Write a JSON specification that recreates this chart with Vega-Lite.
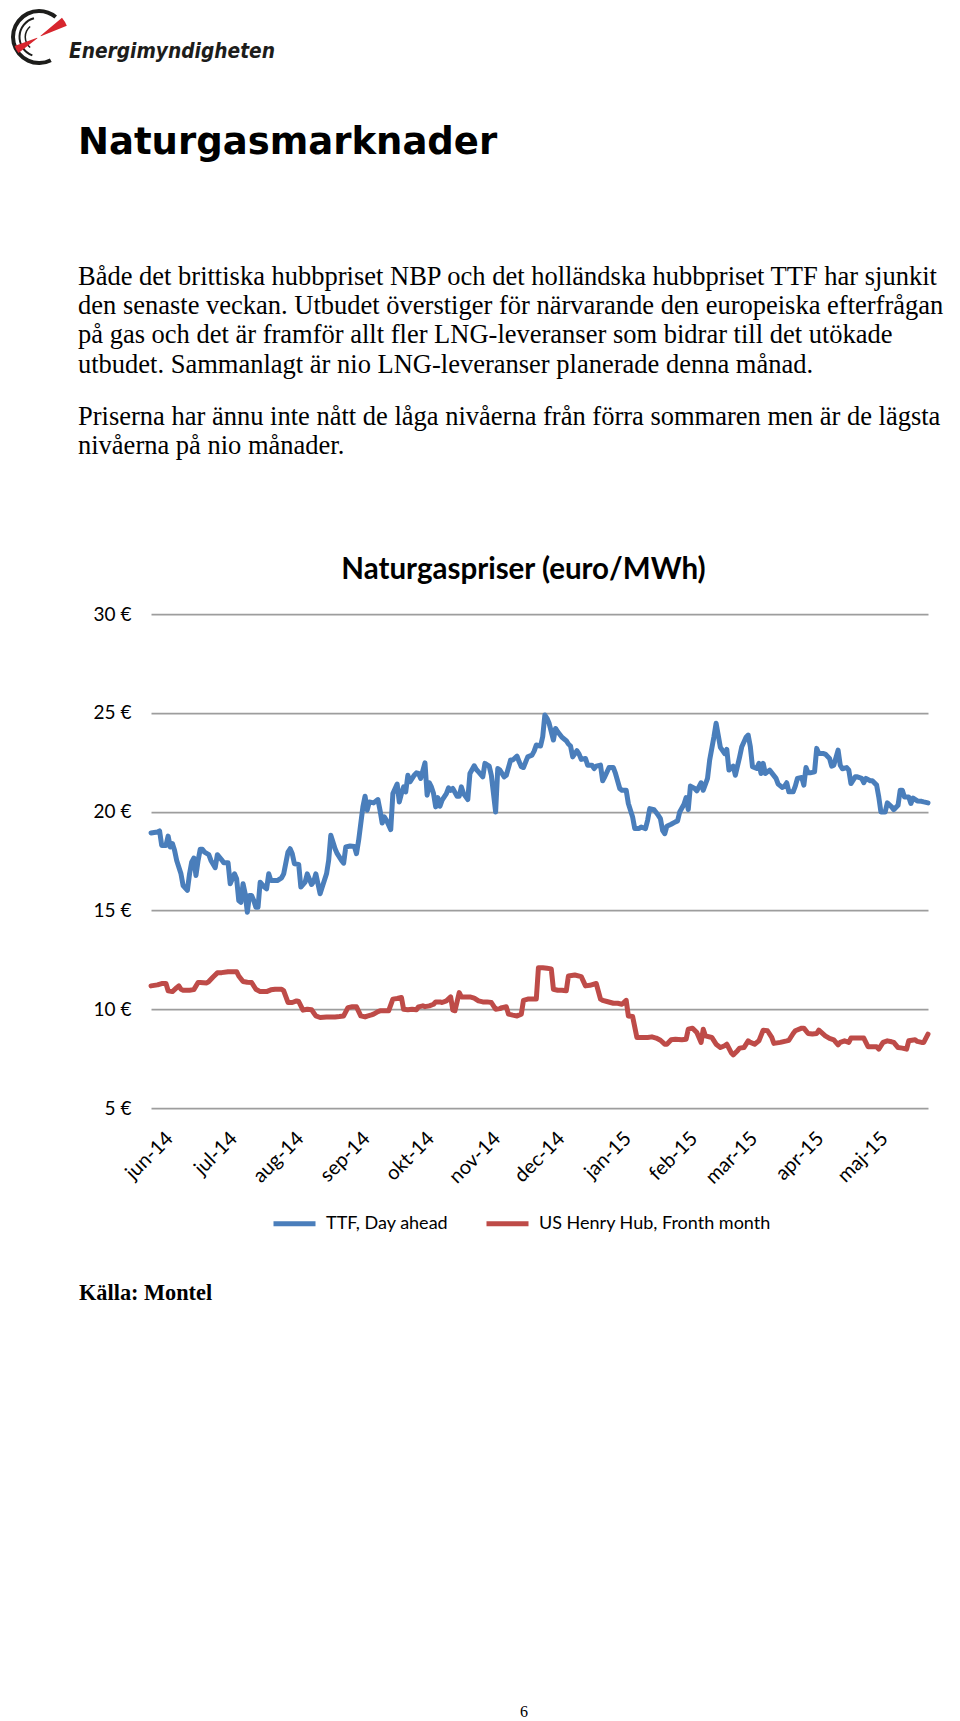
{
  "$schema": "https://vega.github.io/schema/vega-lite/v6.json",
  "background": "white",
  "padding": {"left": 9, "top": 7, "right": 0, "bottom": 0},
  "spacing": 0,
  "bounds": "flush",
  "resolve": {"scale": {"color": "independent", "fill": "independent", "theta": "independent"}, "legend": {"color": "independent", "fill": "independent"}},
  "config": {"view": {"stroke": null}},
  "datasets": {
    "logo": [
      {"ring": "a", "i": 1, "part": "k", "deg": 40},
      {"ring": "a", "i": 2, "part": "x", "deg": 113},
      {"ring": "a", "i": 3, "part": "k", "deg": 207},
      {"ring": "b", "i": 1, "part": "x", "deg": 200},
      {"ring": "b", "i": 2, "part": "k", "deg": 145},
      {"ring": "b", "i": 3, "part": "x", "deg": 15},
      {"ring": "c", "i": 1, "part": "x", "deg": 220},
      {"ring": "c", "i": 2, "part": "k", "deg": 100},
      {"ring": "c", "i": 3, "part": "x", "deg": 40},
      {"ring": "d", "i": 1, "part": "x", "deg": 50},
      {"ring": "d", "i": 2, "part": "r", "deg": 18},
      {"ring": "d", "i": 3, "part": "x", "deg": 292},
      {"ring": "e", "i": 1, "part": "x", "deg": 232},
      {"ring": "e", "i": 2, "part": "r", "deg": 18},
      {"ring": "e", "i": 3, "part": "x", "deg": 110}
    ],
    "ttf": [
      {"date": "2014-05-21", "price": 18.92}, {"date": "2014-05-24", "price": 18.97}, {"date": "2014-05-25", "price": 19.02}, {"date": "2014-05-26", "price": 18.29}, {"date": "2014-05-28", "price": 18.29}, {"date": "2014-05-29", "price": 18.76}, {"date": "2014-05-30", "price": 18.21}, {"date": "2014-05-31", "price": 18.38},
      {"date": "2014-06-01", "price": 18.04}, {"date": "2014-06-02", "price": 17.53}, {"date": "2014-06-04", "price": 16.85}, {"date": "2014-06-05", "price": 16.26}, {"date": "2014-06-07", "price": 16.01}, {"date": "2014-06-08", "price": 16.85}, {"date": "2014-06-09", "price": 17.44}, {"date": "2014-06-10", "price": 17.65}, {"date": "2014-06-11", "price": 16.77}, {"date": "2014-06-12", "price": 17.53}, {"date": "2014-06-13", "price": 18.09}, {"date": "2014-06-14", "price": 18.09}, {"date": "2014-06-15", "price": 17.95}, {"date": "2014-06-17", "price": 17.82}, {"date": "2014-06-18", "price": 17.53}, {"date": "2014-06-20", "price": 17.16}, {"date": "2014-06-21", "price": 17.82}, {"date": "2014-06-23", "price": 17.56}, {"date": "2014-06-24", "price": 17.41}, {"date": "2014-06-26", "price": 17.41}, {"date": "2014-06-27", "price": 16.35}, {"date": "2014-06-29", "price": 16.85}, {"date": "2014-06-30", "price": 16.60},
      {"date": "2014-07-01", "price": 15.50}, {"date": "2014-07-02", "price": 15.41}, {"date": "2014-07-03", "price": 16.35}, {"date": "2014-07-04", "price": 15.84}, {"date": "2014-07-05", "price": 14.91}, {"date": "2014-07-06", "price": 15.75}, {"date": "2014-07-07", "price": 15.75}, {"date": "2014-07-08", "price": 15.50}, {"date": "2014-07-09", "price": 15.16}, {"date": "2014-07-10", "price": 15.16}, {"date": "2014-07-11", "price": 16.43}, {"date": "2014-07-13", "price": 16.18}, {"date": "2014-07-14", "price": 16.09}, {"date": "2014-07-15", "price": 16.85}, {"date": "2014-07-16", "price": 16.51}, {"date": "2014-07-19", "price": 16.51}, {"date": "2014-07-21", "price": 16.65}, {"date": "2014-07-22", "price": 16.85}, {"date": "2014-07-24", "price": 17.95}, {"date": "2014-07-25", "price": 18.12}, {"date": "2014-07-26", "price": 17.87}, {"date": "2014-07-27", "price": 17.36}, {"date": "2014-07-29", "price": 17.33}, {"date": "2014-07-30", "price": 16.18},
      {"date": "2014-08-01", "price": 16.43}, {"date": "2014-08-02", "price": 16.85}, {"date": "2014-08-04", "price": 16.31}, {"date": "2014-08-05", "price": 16.46}, {"date": "2014-08-06", "price": 16.85}, {"date": "2014-08-08", "price": 15.84}, {"date": "2014-08-09", "price": 16.18}, {"date": "2014-08-11", "price": 16.85}, {"date": "2014-08-12", "price": 17.53}, {"date": "2014-08-13", "price": 18.80}, {"date": "2014-08-15", "price": 18.12}, {"date": "2014-08-16", "price": 17.87}, {"date": "2014-08-18", "price": 17.53}, {"date": "2014-08-19", "price": 17.39}, {"date": "2014-08-20", "price": 18.21}, {"date": "2014-08-22", "price": 18.26}, {"date": "2014-08-24", "price": 18.24}, {"date": "2014-08-25", "price": 17.87}, {"date": "2014-08-26", "price": 18.54}, {"date": "2014-08-27", "price": 19.39}, {"date": "2014-08-28", "price": 20.24}, {"date": "2014-08-29", "price": 20.78}, {"date": "2014-08-30", "price": 20.07}, {"date": "2014-08-31", "price": 20.49},
      {"date": "2014-09-02", "price": 20.44}, {"date": "2014-09-04", "price": 20.61}, {"date": "2014-09-05", "price": 20.07}, {"date": "2014-09-06", "price": 19.42}, {"date": "2014-09-07", "price": 19.73}, {"date": "2014-09-08", "price": 19.56}, {"date": "2014-09-10", "price": 19.09}, {"date": "2014-09-11", "price": 20.91}, {"date": "2014-09-13", "price": 21.39}, {"date": "2014-09-14", "price": 20.49}, {"date": "2014-09-15", "price": 20.91}, {"date": "2014-09-16", "price": 21.25}, {"date": "2014-09-17", "price": 21.00}, {"date": "2014-09-18", "price": 21.84}, {"date": "2014-09-19", "price": 21.51}, {"date": "2014-09-21", "price": 21.84}, {"date": "2014-09-22", "price": 21.96}, {"date": "2014-09-23", "price": 21.93}, {"date": "2014-09-24", "price": 21.68}, {"date": "2014-09-26", "price": 22.47}, {"date": "2014-09-27", "price": 20.83}, {"date": "2014-09-28", "price": 21.46}, {"date": "2014-09-29", "price": 21.25}, {"date": "2014-09-30", "price": 20.91},
      {"date": "2014-10-01", "price": 20.24}, {"date": "2014-10-02", "price": 20.71}, {"date": "2014-10-03", "price": 20.27}, {"date": "2014-10-04", "price": 20.58}, {"date": "2014-10-06", "price": 20.91}, {"date": "2014-10-07", "price": 21.20}, {"date": "2014-10-08", "price": 21.08}, {"date": "2014-10-09", "price": 21.17}, {"date": "2014-10-11", "price": 20.78}, {"date": "2014-10-12", "price": 20.78}, {"date": "2014-10-13", "price": 21.25}, {"date": "2014-10-14", "price": 20.91}, {"date": "2014-10-16", "price": 20.61}, {"date": "2014-10-17", "price": 21.93}, {"date": "2014-10-19", "price": 22.32}, {"date": "2014-10-20", "price": 22.13}, {"date": "2014-10-21", "price": 22.01}, {"date": "2014-10-23", "price": 21.76}, {"date": "2014-10-24", "price": 22.44}, {"date": "2014-10-26", "price": 22.30}, {"date": "2014-10-27", "price": 21.84}, {"date": "2014-10-29", "price": 19.98}, {"date": "2014-10-30", "price": 22.18}, {"date": "2014-10-31", "price": 22.10},
      {"date": "2014-11-02", "price": 21.76}, {"date": "2014-11-03", "price": 21.84}, {"date": "2014-11-05", "price": 22.61}, {"date": "2014-11-06", "price": 22.61}, {"date": "2014-11-08", "price": 22.81}, {"date": "2014-11-09", "price": 22.52}, {"date": "2014-11-10", "price": 22.27}, {"date": "2014-11-11", "price": 22.23}, {"date": "2014-11-13", "price": 22.77}, {"date": "2014-11-15", "price": 22.86}, {"date": "2014-11-16", "price": 23.06}, {"date": "2014-11-17", "price": 23.37}, {"date": "2014-11-19", "price": 23.32}, {"date": "2014-11-20", "price": 23.79}, {"date": "2014-11-21", "price": 24.89}, {"date": "2014-11-22", "price": 24.72}, {"date": "2014-11-23", "price": 24.47}, {"date": "2014-11-25", "price": 23.62}, {"date": "2014-11-26", "price": 24.21}, {"date": "2014-11-27", "price": 24.04}, {"date": "2014-11-29", "price": 23.76},
      {"date": "2014-12-01", "price": 23.59}, {"date": "2014-12-02", "price": 23.42}, {"date": "2014-12-03", "price": 23.32}, {"date": "2014-12-04", "price": 22.77}, {"date": "2014-12-06", "price": 23.08}, {"date": "2014-12-07", "price": 22.91}, {"date": "2014-12-08", "price": 22.64}, {"date": "2014-12-10", "price": 22.69}, {"date": "2014-12-11", "price": 22.35}, {"date": "2014-12-13", "price": 22.35}, {"date": "2014-12-14", "price": 22.18}, {"date": "2014-12-15", "price": 22.30}, {"date": "2014-12-17", "price": 22.35}, {"date": "2014-12-18", "price": 21.56}, {"date": "2014-12-19", "price": 21.76}, {"date": "2014-12-21", "price": 22.23}, {"date": "2014-12-23", "price": 22.23}, {"date": "2014-12-24", "price": 21.93}, {"date": "2014-12-26", "price": 21.17}, {"date": "2014-12-27", "price": 21.08}, {"date": "2014-12-29", "price": 21.08}, {"date": "2014-12-30", "price": 20.41},
      {"date": "2015-01-01", "price": 19.73}, {"date": "2015-01-02", "price": 19.14}, {"date": "2015-01-04", "price": 19.14}, {"date": "2015-01-05", "price": 19.22}, {"date": "2015-01-07", "price": 19.14}, {"date": "2015-01-08", "price": 19.56}, {"date": "2015-01-09", "price": 20.15}, {"date": "2015-01-11", "price": 20.10}, {"date": "2015-01-13", "price": 19.81}, {"date": "2015-01-14", "price": 19.64}, {"date": "2015-01-15", "price": 19.05}, {"date": "2015-01-16", "price": 18.88}, {"date": "2015-01-17", "price": 19.26}, {"date": "2015-01-19", "price": 19.36}, {"date": "2015-01-21", "price": 19.48}, {"date": "2015-01-22", "price": 19.53}, {"date": "2015-01-23", "price": 19.98}, {"date": "2015-01-25", "price": 20.37}, {"date": "2015-01-26", "price": 20.71}, {"date": "2015-01-27", "price": 20.10}, {"date": "2015-01-28", "price": 21.29}, {"date": "2015-01-30", "price": 21.17}, {"date": "2015-01-31", "price": 21.05},
      {"date": "2015-02-02", "price": 21.46}, {"date": "2015-02-03", "price": 21.08}, {"date": "2015-02-05", "price": 21.68}, {"date": "2015-02-06", "price": 22.61}, {"date": "2015-02-08", "price": 23.79}, {"date": "2015-02-09", "price": 24.47}, {"date": "2015-02-10", "price": 23.87}, {"date": "2015-02-11", "price": 23.25}, {"date": "2015-02-13", "price": 22.94}, {"date": "2015-02-14", "price": 23.15}, {"date": "2015-02-15", "price": 22.10}, {"date": "2015-02-17", "price": 22.30}, {"date": "2015-02-18", "price": 21.84}, {"date": "2015-02-20", "price": 22.77}, {"date": "2015-02-21", "price": 23.28}, {"date": "2015-02-23", "price": 23.76}, {"date": "2015-02-24", "price": 23.87}, {"date": "2015-02-25", "price": 23.28}, {"date": "2015-02-26", "price": 22.27}, {"date": "2015-02-28", "price": 22.18},
      {"date": "2015-03-01", "price": 22.44}, {"date": "2015-03-02", "price": 21.93}, {"date": "2015-03-03", "price": 22.44}, {"date": "2015-03-04", "price": 21.93}, {"date": "2015-03-06", "price": 22.10}, {"date": "2015-03-07", "price": 21.96}, {"date": "2015-03-09", "price": 21.68}, {"date": "2015-03-10", "price": 21.39}, {"date": "2015-03-12", "price": 21.22}, {"date": "2015-03-13", "price": 21.29}, {"date": "2015-03-14", "price": 21.46}, {"date": "2015-03-15", "price": 21.00}, {"date": "2015-03-17", "price": 21.00}, {"date": "2015-03-18", "price": 21.29}, {"date": "2015-03-19", "price": 21.68}, {"date": "2015-03-21", "price": 21.73}, {"date": "2015-03-22", "price": 21.34}, {"date": "2015-03-23", "price": 22.23}, {"date": "2015-03-24", "price": 21.96}, {"date": "2015-03-25", "price": 21.96}, {"date": "2015-03-27", "price": 22.01}, {"date": "2015-03-28", "price": 23.20}, {"date": "2015-03-29", "price": 22.94}, {"date": "2015-03-31", "price": 22.94},
      {"date": "2015-04-01", "price": 22.91}, {"date": "2015-04-03", "price": 22.69}, {"date": "2015-04-04", "price": 22.30}, {"date": "2015-04-05", "price": 22.35}, {"date": "2015-04-07", "price": 23.11}, {"date": "2015-04-08", "price": 22.35}, {"date": "2015-04-09", "price": 22.17}, {"date": "2015-04-11", "price": 22.23}, {"date": "2015-04-12", "price": 22.10}, {"date": "2015-04-13", "price": 21.42}, {"date": "2015-04-15", "price": 21.76}, {"date": "2015-04-16", "price": 21.76}, {"date": "2015-04-18", "price": 21.68}, {"date": "2015-04-19", "price": 21.46}, {"date": "2015-04-20", "price": 21.68}, {"date": "2015-04-22", "price": 21.56}, {"date": "2015-04-23", "price": 21.56}, {"date": "2015-04-25", "price": 21.34}, {"date": "2015-04-26", "price": 20.74}, {"date": "2015-04-27", "price": 19.98}, {"date": "2015-04-29", "price": 19.98}, {"date": "2015-04-30", "price": 20.44},
      {"date": "2015-05-02", "price": 20.24}, {"date": "2015-05-03", "price": 20.10}, {"date": "2015-05-05", "price": 20.32}, {"date": "2015-05-06", "price": 21.08}, {"date": "2015-05-07", "price": 21.08}, {"date": "2015-05-08", "price": 20.74}, {"date": "2015-05-10", "price": 20.74}, {"date": "2015-05-11", "price": 20.41}, {"date": "2015-05-12", "price": 20.69}, {"date": "2015-05-14", "price": 20.54}, {"date": "2015-05-16", "price": 20.52}, {"date": "2015-05-17", "price": 20.49}, {"date": "2015-05-19", "price": 20.44}
    ],
    "hh": [
      {"date": "2014-05-21", "price": 11.18}, {"date": "2014-05-24", "price": 11.23}, {"date": "2014-05-26", "price": 11.30}, {"date": "2014-05-28", "price": 11.30}, {"date": "2014-05-29", "price": 10.93}, {"date": "2014-05-31", "price": 10.89},
      {"date": "2014-06-02", "price": 11.09}, {"date": "2014-06-03", "price": 11.18}, {"date": "2014-06-04", "price": 11.01}, {"date": "2014-06-05", "price": 10.96}, {"date": "2014-06-08", "price": 10.96}, {"date": "2014-06-10", "price": 10.99}, {"date": "2014-06-12", "price": 11.35}, {"date": "2014-06-13", "price": 11.35}, {"date": "2014-06-16", "price": 11.33}, {"date": "2014-06-17", "price": 11.40}, {"date": "2014-06-19", "price": 11.63}, {"date": "2014-06-21", "price": 11.84}, {"date": "2014-06-23", "price": 11.85}, {"date": "2014-06-26", "price": 11.90}, {"date": "2014-06-28", "price": 11.90}, {"date": "2014-06-30", "price": 11.90},
      {"date": "2014-07-01", "price": 11.68}, {"date": "2014-07-03", "price": 11.40}, {"date": "2014-07-05", "price": 11.36}, {"date": "2014-07-07", "price": 11.35}, {"date": "2014-07-09", "price": 11.01}, {"date": "2014-07-11", "price": 10.89}, {"date": "2014-07-14", "price": 10.89}, {"date": "2014-07-16", "price": 10.98}, {"date": "2014-07-18", "price": 11.01}, {"date": "2014-07-21", "price": 11.01}, {"date": "2014-07-22", "price": 10.93}, {"date": "2014-07-24", "price": 10.34}, {"date": "2014-07-26", "price": 10.34}, {"date": "2014-07-28", "price": 10.42}, {"date": "2014-07-29", "price": 10.39}, {"date": "2014-07-31", "price": 9.95},
      {"date": "2014-08-02", "price": 10.00}, {"date": "2014-08-04", "price": 9.97}, {"date": "2014-08-06", "price": 9.66}, {"date": "2014-08-08", "price": 9.58}, {"date": "2014-08-11", "price": 9.60}, {"date": "2014-08-15", "price": 9.61}, {"date": "2014-08-17", "price": 9.63}, {"date": "2014-08-19", "price": 9.66}, {"date": "2014-08-21", "price": 10.08}, {"date": "2014-08-23", "price": 10.12}, {"date": "2014-08-25", "price": 10.12}, {"date": "2014-08-27", "price": 9.66}, {"date": "2014-08-29", "price": 9.61}, {"date": "2014-08-30", "price": 9.65},
      {"date": "2014-09-01", "price": 9.71}, {"date": "2014-09-02", "price": 9.75}, {"date": "2014-09-04", "price": 9.88}, {"date": "2014-09-05", "price": 9.92}, {"date": "2014-09-08", "price": 9.92}, {"date": "2014-09-09", "price": 9.92}, {"date": "2014-09-11", "price": 10.51}, {"date": "2014-09-13", "price": 10.54}, {"date": "2014-09-15", "price": 10.59}, {"date": "2014-09-16", "price": 10.00}, {"date": "2014-09-18", "price": 9.97}, {"date": "2014-09-20", "price": 10.00}, {"date": "2014-09-22", "price": 9.97}, {"date": "2014-09-23", "price": 10.12}, {"date": "2014-09-25", "price": 10.17}, {"date": "2014-09-26", "price": 10.13}, {"date": "2014-09-28", "price": 10.17}, {"date": "2014-09-30", "price": 10.25},
      {"date": "2014-10-01", "price": 10.37}, {"date": "2014-10-03", "price": 10.37}, {"date": "2014-10-04", "price": 10.34}, {"date": "2014-10-06", "price": 10.42}, {"date": "2014-10-08", "price": 10.62}, {"date": "2014-10-09", "price": 9.95}, {"date": "2014-10-10", "price": 9.92}, {"date": "2014-10-12", "price": 10.84}, {"date": "2014-10-13", "price": 10.62}, {"date": "2014-10-15", "price": 10.62}, {"date": "2014-10-17", "price": 10.62}, {"date": "2014-10-19", "price": 10.56}, {"date": "2014-10-21", "price": 10.42}, {"date": "2014-10-23", "price": 10.37}, {"date": "2014-10-25", "price": 10.37}, {"date": "2014-10-27", "price": 10.34}, {"date": "2014-10-29", "price": 10.00}, {"date": "2014-10-31", "price": 10.03},
      {"date": "2014-11-01", "price": 10.08}, {"date": "2014-11-03", "price": 10.12}, {"date": "2014-11-04", "price": 9.75}, {"date": "2014-11-06", "price": 9.70}, {"date": "2014-11-08", "price": 9.66}, {"date": "2014-11-10", "price": 9.75}, {"date": "2014-11-11", "price": 10.45}, {"date": "2014-11-13", "price": 10.51}, {"date": "2014-11-15", "price": 10.51}, {"date": "2014-11-17", "price": 10.51}, {"date": "2014-11-18", "price": 12.10}, {"date": "2014-11-20", "price": 12.10}, {"date": "2014-11-22", "price": 12.07}, {"date": "2014-11-24", "price": 12.04}, {"date": "2014-11-25", "price": 11.01}, {"date": "2014-11-27", "price": 10.96}, {"date": "2014-11-29", "price": 10.96},
      {"date": "2014-12-01", "price": 10.93}, {"date": "2014-12-02", "price": 11.68}, {"date": "2014-12-05", "price": 11.73}, {"date": "2014-12-08", "price": 11.65}, {"date": "2014-12-10", "price": 11.18}, {"date": "2014-12-12", "price": 11.21}, {"date": "2014-12-15", "price": 11.30}, {"date": "2014-12-17", "price": 10.51}, {"date": "2014-12-18", "price": 10.45}, {"date": "2014-12-20", "price": 10.39}, {"date": "2014-12-23", "price": 10.30}, {"date": "2014-12-25", "price": 10.30}, {"date": "2014-12-27", "price": 10.25}, {"date": "2014-12-29", "price": 10.45}, {"date": "2014-12-30", "price": 9.66},
      {"date": "2015-01-01", "price": 9.63}, {"date": "2015-01-03", "price": 8.57}, {"date": "2015-01-06", "price": 8.57}, {"date": "2015-01-08", "price": 8.57}, {"date": "2015-01-10", "price": 8.60}, {"date": "2015-01-12", "price": 8.54}, {"date": "2015-01-14", "price": 8.43}, {"date": "2015-01-16", "price": 8.23}, {"date": "2015-01-17", "price": 8.23}, {"date": "2015-01-19", "price": 8.45}, {"date": "2015-01-21", "price": 8.48}, {"date": "2015-01-24", "price": 8.45}, {"date": "2015-01-26", "price": 8.48}, {"date": "2015-01-27", "price": 8.99}, {"date": "2015-01-29", "price": 9.04}, {"date": "2015-01-31", "price": 8.82},
      {"date": "2015-02-02", "price": 8.32}, {"date": "2015-02-03", "price": 8.99}, {"date": "2015-02-04", "price": 8.65}, {"date": "2015-02-07", "price": 8.57}, {"date": "2015-02-09", "price": 8.23}, {"date": "2015-02-11", "price": 8.06}, {"date": "2015-02-13", "price": 8.15}, {"date": "2015-02-14", "price": 8.23}, {"date": "2015-02-16", "price": 7.81}, {"date": "2015-02-17", "price": 7.69}, {"date": "2015-02-19", "price": 7.90}, {"date": "2015-02-20", "price": 8.03}, {"date": "2015-02-22", "price": 8.06}, {"date": "2015-02-24", "price": 8.40}, {"date": "2015-02-25", "price": 8.32}, {"date": "2015-02-27", "price": 8.23},
      {"date": "2015-03-01", "price": 8.40}, {"date": "2015-03-03", "price": 8.94}, {"date": "2015-03-05", "price": 8.91}, {"date": "2015-03-07", "price": 8.57}, {"date": "2015-03-08", "price": 8.27}, {"date": "2015-03-11", "price": 8.32}, {"date": "2015-03-14", "price": 8.40}, {"date": "2015-03-15", "price": 8.43}, {"date": "2015-03-17", "price": 8.77}, {"date": "2015-03-18", "price": 8.91}, {"date": "2015-03-21", "price": 9.04}, {"date": "2015-03-22", "price": 9.04}, {"date": "2015-03-24", "price": 8.77}, {"date": "2015-03-26", "price": 8.74}, {"date": "2015-03-28", "price": 8.77}, {"date": "2015-03-29", "price": 8.94},
      {"date": "2015-04-01", "price": 8.65}, {"date": "2015-04-03", "price": 8.52}, {"date": "2015-04-05", "price": 8.45}, {"date": "2015-04-07", "price": 8.20}, {"date": "2015-04-08", "price": 8.32}, {"date": "2015-04-10", "price": 8.40}, {"date": "2015-04-12", "price": 8.32}, {"date": "2015-04-13", "price": 8.54}, {"date": "2015-04-15", "price": 8.54}, {"date": "2015-04-18", "price": 8.54}, {"date": "2015-04-19", "price": 8.54}, {"date": "2015-04-21", "price": 8.10}, {"date": "2015-04-23", "price": 8.10}, {"date": "2015-04-25", "price": 8.10}, {"date": "2015-04-26", "price": 7.98}, {"date": "2015-04-28", "price": 8.32}, {"date": "2015-04-30", "price": 8.40},
      {"date": "2015-05-02", "price": 8.35}, {"date": "2015-05-03", "price": 8.32}, {"date": "2015-05-05", "price": 8.06}, {"date": "2015-05-07", "price": 8.03}, {"date": "2015-05-09", "price": 7.98}, {"date": "2015-05-10", "price": 8.40}, {"date": "2015-05-13", "price": 8.45}, {"date": "2015-05-14", "price": 8.37}, {"date": "2015-05-16", "price": 8.32}, {"date": "2015-05-17", "price": 8.32}, {"date": "2015-05-19", "price": 8.74}
    ]
  },
  "vconcat": [
    {
      "width": 58,
      "height": 56,
      "title": {"text": "Energimyndigheten", "orient": "right", "angle": 0, "align": "right", "anchor": "middle", "baseline": "top", "frame": "group", "offset": 0, "dy": 5, "font": "DejaVu Sans Condensed, DejaVu Sans, sans-serif", "fontSize": 20.7, "fontStyle": "italic", "fontWeight": "bold", "color": "#1d1d1b"},
      "data": {"name": "logo"},
      "encoding": {
        "theta": {"field": "deg", "type": "quantitative", "stack": true, "scale": {"domain": [0, 360]}},
        "order": {"field": "i"},
        "fill": {"field": "part", "type": "nominal", "scale": {"domain": ["k", "r", "x"], "range": ["#1d1d1b", "#d7262e", "rgba(255,255,255,0)"]}, "legend": null}
      },
      "layer": [
        {"transform": [{"filter": "datum.ring === 'a'"}], "mark": {"type": "arc", "radius": 28, "radius2": 24}},
        {"transform": [{"filter": "datum.ring === 'b'"}], "mark": {"type": "arc", "radius": 20.5, "radius2": 18.5}},
        {"transform": [{"filter": "datum.ring === 'c'"}], "mark": {"type": "arc", "radius": 14.5, "radius2": 13}},
        {"transform": [{"filter": "datum.ring === 'd'"}], "mark": {"type": "arc", "radius": 30, "radius2": 2}},
        {"transform": [{"filter": "datum.ring === 'e'"}], "mark": {"type": "arc", "radius": 26, "radius2": 2}}
      ]
    },
    {
      "width": 941,
      "height": 1,
      "data": {"values": []},
      "mark": "point",
      "title": {
        "text": "Naturgasmarknader",
        "subtitle": [
          "Både det brittiska hubbpriset NBP och det holländska hubbpriset TTF har sjunkit",
          "den senaste veckan. Utbudet överstiger för närvarande den europeiska efterfrågan",
          "på gas och det är framför allt fler LNG-leveranser som bidrar till det utökade",
          "utbudet. Sammanlagt är nio LNG-leveranser planerade denna månad."
        ],
        "orient": "bottom", "anchor": "start", "frame": "group", "baseline": "top", "offset": 59.3, "dx": 68,
        "font": "DejaVu Sans", "fontSize": 37, "fontWeight": "bold", "color": "#000000",
        "subtitleFont": "Liberation Serif", "subtitleFontSize": 26.5, "subtitleColor": "#000000", "subtitleLineHeight": 29.3, "subtitlePadding": 101.4
      }
    },
    {
      "width": 941,
      "height": 1,
      "data": {"values": []},
      "mark": "point",
      "title": {
        "text": [
          "Priserna har ännu inte nått de låga nivåerna från förra sommaren men är de lägsta",
          "nivåerna på nio månader."
        ],
        "orient": "bottom", "anchor": "start", "frame": "group", "baseline": "top", "offset": 336.5, "dx": 68,
        "font": "Liberation Serif", "fontSize": 26.5, "fontWeight": "normal", "lineHeight": 29.3, "color": "#000000"
      }
    },
    {
      "width": 941,
      "height": 547,
      "data": {"values": []},
      "mark": "point"
    },
    {
      "spacing": 0,
      "bounds": "flush",
      "resolve": {"scale": {"color": "independent"}, "legend": {"color": "independent"}},
      "hconcat": [
        {"width": 141, "height": 494, "data": {"values": []}, "mark": "point"},
        {
          "width": 777,
          "height": 494,
          "title": {"text": "Naturgaspriser (euro/MWh)", "orient": "top", "anchor": "middle", "frame": "group", "baseline": "top", "offset": 20, "dx": -16, "font": "Lato", "fontSize": 29.5, "fontWeight": "bold", "color": "#000000"},
          "encoding": {
            "x": {
              "field": "date", "type": "temporal",
              "scale": {"type": "utc", "domain": [{"year": 2014, "month": 5, "date": 21, "utc": true}, {"year": 2015, "month": 5, "date": 19, "utc": true}]},
              "axis": {
                "values": [
                  {"year": 2014, "month": 6, "date": 1, "utc": true}, {"year": 2014, "month": 7, "date": 1, "utc": true}, {"year": 2014, "month": 8, "date": 1, "utc": true}, {"year": 2014, "month": 9, "date": 1, "utc": true}, {"year": 2014, "month": 10, "date": 1, "utc": true}, {"year": 2014, "month": 11, "date": 1, "utc": true}, {"year": 2014, "month": 12, "date": 1, "utc": true}, {"year": 2015, "month": 1, "date": 1, "utc": true}, {"year": 2015, "month": 2, "date": 1, "utc": true}, {"year": 2015, "month": 3, "date": 1, "utc": true}, {"year": 2015, "month": 4, "date": 1, "utc": true}, {"year": 2015, "month": 5, "date": 1, "utc": true}
                ],
                "labelExpr": "['jan','feb','mar','apr','maj','jun','jul','aug','sep','okt','nov','dec'][utcmonth(datum.value)] + '-' + utcFormat(datum.value, '%y')",
                "labelAngle": -45, "labelAlign": "right", "labelBaseline": "middle", "labelPadding": 27, "labelOffset": -5,
                "labelFont": "Lato", "labelFontSize": 20, "labelColor": "#000000",
                "labelOverlap": false, "labelFlush": false, "labelBound": false,
                "domain": false, "ticks": false, "grid": false, "title": null
              }
            },
            "y": {
              "field": "price", "type": "quantitative",
              "scale": {"domain": [5, 30], "nice": false, "zero": false},
              "axis": {
                "values": [5, 10, 15, 20, 25, 30],
                "labelExpr": "datum.value + ' €'",
                "labelFont": "Lato", "labelFontSize": 19, "labelColor": "#000000", "labelPadding": 20,
                "domain": false, "ticks": false, "grid": true, "gridColor": "#9d9d9d", "gridWidth": 1.75, "title": null
              }
            }
          },
          "layer": [
            {
              "data": {"name": "ttf"},
              "mark": {"type": "line", "strokeWidth": 5, "strokeJoin": "round", "strokeCap": "round"},
              "encoding": {
                "color": {
                  "datum": "TTF, Day ahead", "type": "nominal",
                  "scale": {"domain": ["TTF, Day ahead", "US Henry Hub, Fronth month"], "range": ["#4a7ebb", "#be4b48"]},
                  "legend": {"orient": "none", "legendX": 120, "legendY": 586, "direction": "horizontal", "title": null, "symbolType": "stroke", "symbolStrokeWidth": 5, "symbolSize": 1764, "labelFont": "Lato", "labelFontSize": 18, "labelColor": "#000000", "labelOffset": 8, "columnPadding": 27, "labelLimit": 400}
                }
              }
            },
            {
              "data": {"name": "hh"},
              "mark": {"type": "line", "strokeWidth": 5, "strokeJoin": "round", "strokeCap": "round"},
              "encoding": {
                "color": {"datum": "US Henry Hub, Fronth month", "type": "nominal"}
              }
            }
          ]
        }
      ]
    },
    {
      "width": 941,
      "height": 1,
      "data": {"values": []},
      "mark": "point",
      "title": {"text": "Källa: Montel", "orient": "bottom", "anchor": "start", "frame": "group", "baseline": "top", "offset": 667.4, "dx": 69, "font": "Liberation Serif", "fontSize": 22.3, "fontWeight": "bold", "color": "#000000"}
    },
    {
      "width": 941,
      "height": 1,
      "data": {"values": []},
      "mark": "point",
      "title": {"text": "6", "orient": "bottom", "anchor": "start", "frame": "group", "baseline": "top", "offset": 1088.4, "dx": 510, "font": "Liberation Serif", "fontSize": 16, "fontWeight": "normal", "color": "#000000"}
    }
  ]
}
